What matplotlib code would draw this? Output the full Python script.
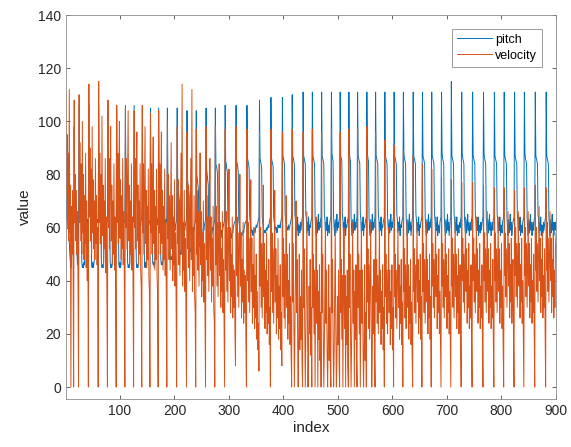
import numpy as np
import matplotlib.pyplot as plt

# note index runs 1..900; one line per pitch cycle (peak -> just before next peak)
pitch = [
    62, 66, 90, 72, 64, 60, 55, 50, 47, 45, 48, 52, 56, 60, 62, 98, 70, 65, 60, 55, 50, 46, 50, 58,
    106, 68, 66, 67, 64, 47, 45, 46, 45, 47, 46, 58, 60, 62, 61, 63, 62, 64,
    106, 69, 67, 66, 64, 46, 45, 47, 45, 46, 48, 57, 60, 62, 61, 63, 62, 63,
    106, 68, 66, 67, 64, 47, 45, 46, 45, 47, 58, 60, 62, 61, 63, 62, 64,
    106, 68, 66, 65, 47, 45, 46, 45, 47, 58, 60, 62, 61, 63, 62, 64,
    106, 69, 67, 65, 46, 45, 47, 45, 46, 57, 60, 62, 61, 63, 62, 63,
    106, 68, 66, 65, 47, 45, 46, 45, 47, 58, 60, 62, 61, 63, 62, 64,
    106, 68, 66, 65, 47, 45, 46, 45, 47, 58, 60, 62, 61, 63, 64,
    105, 69, 67, 65, 46, 45, 47, 45, 46, 57, 60, 62, 61, 62, 63,
    105, 68, 66, 65, 47, 46, 47, 45, 47, 58, 60, 62, 61, 63, 64,
    105, 70, 68, 66, 48, 46, 47, 46, 48, 58, 60, 62, 61, 63, 62, 64,
    105, 74, 72, 71, 69, 50, 48, 49, 48, 50, 49, 56, 58, 60, 59, 61, 62, 63,
    105, 76, 74, 72, 70, 52, 50, 51, 50, 52, 51, 57, 58, 60, 59, 61, 62, 63,
    104, 78, 76, 74, 72, 53, 51, 52, 51, 53, 57, 58, 60, 59, 61, 62, 63,
    104, 80, 78, 76, 74, 55, 53, 54, 52, 54, 53, 57, 58, 60, 59, 61, 62, 63,
    105, 82, 80, 78, 76, 57, 55, 56, 54, 56, 57, 58, 60, 59, 61, 62, 63,
    105, 84, 83, 82, 80, 62, 60, 58, 57, 58, 56, 57, 59, 58, 60, 61, 62, 63,
    106, 85, 84, 82, 81, 63, 61, 59, 58, 57, 58, 56, 57, 59, 58, 60, 61, 62, 62, 63,
    106, 85, 84, 83, 81, 63, 61, 59, 58, 57, 58, 57, 58, 59, 58, 60, 61, 62, 62, 63,
    106, 86, 85, 84, 82, 64, 62, 60, 59, 58, 59, 57, 58, 60, 59, 58, 60, 61, 60, 61, 62, 63, 64,
    108, 86, 85, 84, 82, 64, 62, 60, 59, 58, 59, 58, 59, 60, 59, 60, 61, 60, 62, 63, 64,
    109, 86, 85, 84, 83, 64, 62, 61, 60, 59, 60, 58, 59, 61, 60, 60, 61, 60, 62, 63, 64,
    109, 87, 86, 85, 83, 65, 63, 61, 60, 59, 60, 61, 59, 60, 61, 62, 63, 64,
    110, 87, 86, 85, 84, 65, 63, 58, 62, 59, 64, 57, 61, 60, 58, 62, 59, 61, 63, 64,
    111, 87, 86, 85, 84, 65, 63, 58, 62, 59, 64, 57, 61, 60, 62, 63, 64,
    111, 87, 86, 85, 84, 64, 60, 57, 63, 58, 61, 65, 59, 62, 60, 63, 64,
    111, 87, 86, 85, 84, 65, 63, 58, 62, 59, 64, 57, 61, 60, 58, 62, 63, 64,
    111, 88, 86, 85, 64, 60, 57, 63, 58, 61, 65, 59, 62, 60, 63, 64,
    111, 87, 86, 85, 65, 63, 58, 62, 59, 64, 57, 61, 60, 62, 63, 64,
    111, 88, 86, 85, 64, 60, 57, 63, 58, 61, 65, 59, 62, 60, 63, 64,
    111, 87, 86, 85, 84, 65, 63, 58, 62, 59, 64, 57, 61, 60, 62, 63, 64,
    111, 88, 86, 85, 64, 60, 57, 63, 58, 61, 65, 59, 62, 60, 63, 64,
    111, 87, 86, 85, 84, 65, 63, 58, 62, 59, 64, 57, 61, 60, 62, 63, 64,
    111, 87, 86, 85, 84, 64, 60, 57, 63, 58, 61, 65, 59, 62, 60, 63, 64,
    111, 87, 86, 85, 84, 65, 63, 58, 62, 59, 64, 57, 61, 60, 62, 63, 64,
    111, 88, 86, 85, 84, 64, 60, 57, 63, 58, 61, 65, 59, 62, 57, 60, 63, 64,
    111, 87, 86, 85, 84, 65, 63, 58, 62, 59, 64, 57, 61, 60, 62, 63, 64,
    111, 87, 86, 85, 84, 64, 60, 57, 63, 58, 61, 65, 59, 62, 60, 63, 64,
    111, 87, 86, 85, 84, 65, 63, 58, 62, 59, 64, 57, 61, 60, 58, 62, 63, 64,
    111, 88, 86, 85, 84, 64, 60, 57, 63, 58, 61, 65, 59, 62, 57, 60, 63, 64,
    115, 87, 86, 85, 84, 65, 63, 58, 62, 59, 64, 57, 61, 60, 58, 62, 60, 63, 64,
    111, 88, 86, 85, 84, 64, 60, 57, 63, 58, 61, 65, 59, 62, 57, 60, 62, 59, 63, 64,
    111, 87, 86, 85, 84, 65, 63, 58, 62, 59, 64, 57, 61, 60, 58, 62, 59, 61, 63, 64,
    111, 88, 86, 85, 84, 64, 60, 57, 63, 58, 61, 65, 59, 62, 57, 60, 62, 59, 63, 64,
    111, 87, 86, 85, 84, 65, 63, 58, 62, 59, 64, 57, 61, 60, 58, 62, 63, 64,
    111, 87, 86, 85, 84, 64, 60, 57, 63, 58, 61, 65, 59, 62, 57, 60, 62, 63, 64,
    111, 87, 86, 85, 84, 65, 63, 58, 62, 59, 64, 57, 61, 60, 58, 62, 63, 64,
    111, 88, 86, 85, 84, 64, 60, 57, 63, 58, 61, 65, 59, 62, 57, 60, 62, 59, 63, 64,
    111, 87, 86, 85, 84, 65, 63, 58, 62, 59, 64, 57, 61, 60, 58, 62, 59, 61, 63, 64,
    111, 87, 86, 85, 84, 64, 60, 57, 63, 58, 61, 65, 59, 62, 57, 60, 62, 59, 62,
]

velocity = [
    110, 72, 95, 60, 88, 55, 112, 58, 76, 0, 68, 50, 74, 45, 0, 108, 62, 80, 55, 74, 50, 66, 40, 0,
    110, 62, 92, 55, 84, 50, 100, 58, 80, 48, 72, 54, 88, 45, 70, 40, 62, 0,
    114, 64, 90, 55, 82, 50, 98, 58, 78, 52, 70, 48, 86, 54, 72, 46, 60, 0,
    115, 62, 88, 54, 80, 48, 102, 57, 76, 45, 70, 52, 86, 43, 64, 36, 0,
    108, 60, 86, 52, 78, 98, 55, 76, 46, 70, 50, 84, 44, 64, 38, 0,
    106, 62, 88, 54, 80, 100, 56, 78, 48, 72, 52, 86, 46, 66, 40, 0,
    105, 60, 86, 52, 78, 104, 55, 76, 46, 70, 50, 84, 44, 64, 38, 0,
    104, 60, 86, 52, 78, 96, 55, 76, 46, 70, 50, 84, 44, 38, 0,
    106, 58, 84, 50, 76, 98, 54, 74, 45, 68, 48, 82, 42, 36, 0,
    103, 58, 84, 50, 76, 94, 54, 74, 44, 68, 48, 82, 42, 35, 0,
    104, 58, 84, 50, 76, 96, 54, 74, 44, 68, 48, 82, 42, 62, 35, 0,
    100, 56, 80, 48, 72, 44, 66, 92, 52, 72, 40, 64, 46, 78, 38, 58, 32, 0,
    98, 54, 78, 46, 70, 42, 64, 88, 50, 114, 38, 62, 44, 74, 36, 56, 30, 0,
    96, 52, 76, 45, 68, 40, 62, 86, 48, 112, 36, 60, 42, 72, 34, 28, 0,
    97, 50, 74, 44, 66, 38, 60, 88, 46, 66, 34, 58, 40, 70, 32, 54, 28, 0,
    98, 48, 72, 42, 64, 36, 58, 86, 44, 64, 32, 56, 38, 68, 30, 25, 0,
    98, 46, 68, 38, 62, 34, 56, 84, 42, 62, 30, 52, 36, 66, 28, 48, 22, 0,
    97, 44, 66, 36, 60, 32, 54, 82, 40, 60, 28, 50, 34, 64, 26, 46, 30, 44, 20, 8,
    98, 42, 64, 34, 58, 30, 52, 80, 38, 58, 26, 48, 32, 62, 24, 44, 28, 42, 18, 0,
    97, 40, 62, 32, 56, 28, 50, 78, 36, 56, 24, 46, 30, 60, 22, 42, 26, 50, 18, 36, 14, 24, 6,
    96, 38, 60, 30, 54, 26, 48, 76, 34, 54, 22, 44, 28, 58, 20, 40, 24, 48, 16, 30, 0,
    97, 36, 58, 28, 52, 24, 46, 74, 32, 52, 20, 42, 26, 56, 18, 38, 22, 46, 14, 28, 8,
    96, 34, 56, 26, 50, 22, 44, 72, 30, 50, 18, 40, 24, 54, 16, 34, 12, 0,
    97, 32, 54, 24, 0, 20, 42, 70, 28, 48, 16, 0, 22, 50, 14, 34, 18, 44, 10, 0,
    96, 30, 52, 22, 0, 18, 40, 66, 26, 0, 14, 38, 20, 48, 12, 30, 0,
    97, 30, 50, 20, 44, 0, 38, 64, 24, 44, 0, 36, 18, 46, 10, 28, 0,
    96, 28, 50, 20, 0, 16, 38, 62, 24, 44, 12, 0, 18, 46, 10, 30, 8, 0,
    97, 28, 48, 18, 0, 14, 36, 60, 22, 0, 10, 34, 16, 44, 8, 0,
    96, 28, 48, 18, 42, 0, 36, 60, 22, 42, 0, 34, 16, 44, 8, 0,
    97, 30, 50, 20, 0, 16, 38, 62, 24, 44, 0, 36, 18, 46, 10, 0,
    97, 30, 50, 20, 44, 0, 38, 62, 24, 44, 12, 0, 18, 46, 10, 28, 0,
    98, 32, 52, 22, 46, 18, 40, 62, 26, 0, 14, 38, 20, 48, 12, 0,
    96, 32, 48, 24, 42, 20, 38, 60, 28, 44, 16, 36, 22, 46, 14, 30, 0,
    93, 34, 50, 24, 44, 20, 38, 60, 28, 44, 16, 36, 22, 46, 14, 30, 0,
    91, 34, 50, 26, 44, 22, 40, 60, 30, 46, 18, 38, 24, 48, 16, 32, 0,
    89, 36, 52, 26, 46, 22, 40, 62, 30, 46, 18, 38, 24, 48, 16, 32, 12, 0,
    87, 36, 52, 28, 46, 24, 42, 62, 32, 48, 20, 40, 26, 50, 18, 34, 0,
    84, 36, 54, 28, 48, 24, 42, 62, 32, 48, 20, 40, 26, 50, 18, 34, 0,
    82, 38, 54, 30, 48, 26, 44, 64, 34, 50, 22, 42, 28, 52, 20, 36, 16, 0,
    79, 38, 54, 30, 48, 26, 44, 62, 34, 50, 22, 42, 28, 52, 20, 36, 16, 0,
    78, 38, 56, 30, 50, 26, 44, 64, 34, 50, 22, 42, 28, 52, 20, 36, 46, 16, 0,
    77, 40, 56, 32, 50, 28, 46, 64, 36, 52, 24, 44, 30, 54, 22, 38, 26, 46, 18, 0,
    77, 40, 56, 32, 50, 28, 46, 64, 36, 52, 24, 44, 30, 54, 22, 38, 26, 46, 18, 0,
    76, 40, 58, 32, 52, 28, 46, 66, 36, 52, 24, 44, 30, 54, 22, 38, 26, 48, 18, 0,
    75, 40, 58, 32, 52, 28, 46, 64, 36, 52, 24, 44, 30, 54, 22, 38, 16, 0,
    75, 42, 58, 34, 52, 30, 48, 66, 38, 54, 26, 46, 32, 56, 24, 40, 48, 18, 0,
    74, 42, 60, 34, 54, 30, 48, 66, 38, 54, 26, 46, 32, 56, 24, 40, 18, 0,
    75, 42, 60, 34, 54, 30, 48, 66, 38, 54, 26, 46, 32, 56, 24, 40, 28, 50, 20, 0,
    76, 44, 60, 36, 54, 32, 50, 68, 40, 56, 28, 48, 34, 58, 26, 42, 30, 52, 22, 0,
    75, 44, 62, 36, 56, 32, 50, 66, 40, 56, 28, 48, 34, 58, 26, 44, 30, 52, 58,
]

x_ticks = [100, 200, 300, 400, 500, 600, 700, 800, 900]
y_ticks = [0, 20, 40, 60, 80, 100, 120, 140]

plt.rcParams['font.family'] = ['Liberation Sans', 'DejaVu Sans']

fig = plt.figure(figsize=(5.71, 4.47), dpi=100)
ax = fig.add_axes([66 / 571, 1 - 399 / 447, 490 / 571, 384 / 447])

idx_p = np.arange(1, len(pitch) + 1)
idx_v = np.arange(1, len(velocity) + 1)
ax.plot(idx_p, pitch, color='#0072BD', lw=0.7, label='pitch')
ax.plot(idx_v, velocity, color='#D95319', lw=0.7, label='velocity')

ax.set_xlim(1, 900)
ax.set_ylim(-4.5, 140)
ax.set_xticks(x_ticks)
ax.set_yticks(y_ticks)
ax.tick_params(direction='in', top=True, right=True, length=3, width=0.5,
               colors='#262626', labelsize=10)
for s in ax.spines.values():
    s.set_color('#8c8c8c')
    s.set_linewidth(0.6)

ax.set_xlabel('index', fontsize=11, color='#262626', labelpad=2)
ax.set_ylabel('value', fontsize=11, color='#262626', labelpad=4)

leg = ax.legend(loc='upper right', fontsize=9, fancybox=False, framealpha=1,
                edgecolor='#8c8c8c', handlelength=2.8, borderaxespad=1.1,
                borderpad=0.4, labelspacing=0.3, handletextpad=0.3)
leg.get_frame().set_linewidth(0.6)

fig.savefig('out.png', dpi=100)
print(len(pitch), len(velocity))
